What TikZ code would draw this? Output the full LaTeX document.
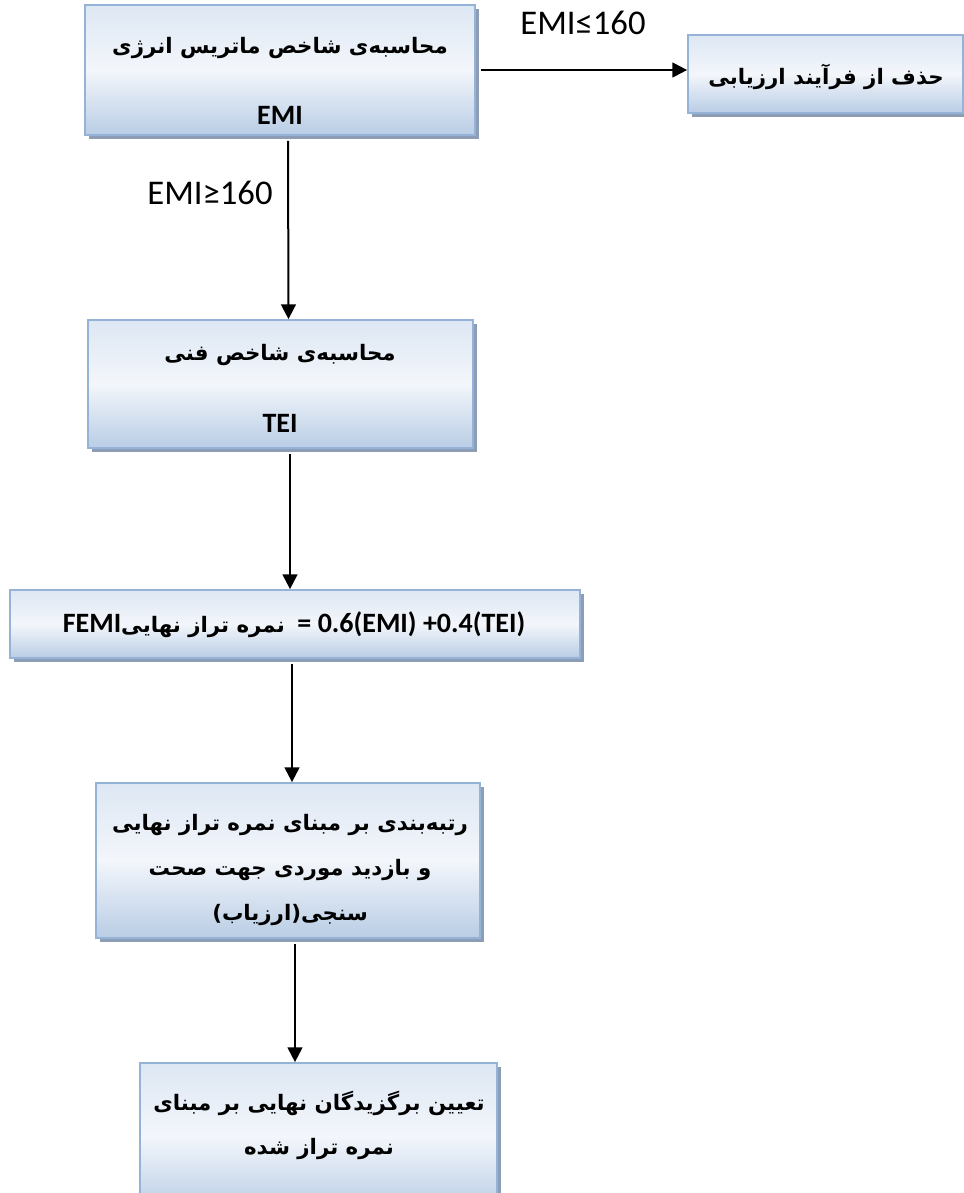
\documentclass[tikz,border=0pt]{standalone}
\usepackage{fontspec}
\setmainfont{Carlito}
\newfontfamily\fafont[Script=Arabic]{DejaVu Sans}
\TeXXeTstate=1
\usetikzlibrary{arrows.meta,
                shadows,
                positioning}
\definecolor{box_top}{RGB}{221,231,243}
\definecolor{box_mid}{RGB}{243,246,251}
\definecolor{box_bot}{RGB}{185,205,229}
\definecolor{box_line}{RGB}{149,179,215}
\definecolor{box_shadow}{RGB}{140,157,181}
\newcommand{\fa}[1]{{\fafont\bfseries\beginR #1\endR}}

\begin{document}
\begin{tikzpicture}[
			x=0.75pt, y=-0.75pt,
			box/.style = {draw=box_line, line width=1.3pt, top color=box_top, bottom color=box_bot, middle color=box_mid,
				drop shadow={shadow xshift=3pt, shadow yshift=-3pt, fill=box_shadow, opacity=1}, inner sep=0pt},
			fatext/.style = {font=\fontsize{16}{33.75}\selectfont, align=center, inner sep=0pt},
			entext/.style = {font=\bfseries\fontsize{21}{24}\selectfont, inner sep=0pt},
			cond/.style = {font=\fontsize{26}{30}\selectfont, inner sep=0pt},
			arr/.style = {line width=1.5pt, -{Triangle[width=11pt,length=11pt]}},
			]
			\clip (0,0) rectangle (964,1193);
			% boxes
			\node[box, minimum width=292.5pt, minimum height=97.5pt] (emi) at (280,70) {};
			\node[box, minimum width=206.25pt, minimum height=58.5pt] (drop) at (825.5,74) {};
			\node[box, minimum width=288.75pt, minimum height=96pt] (tei) at (280.5,384) {};
			\node[box, minimum width=427.5pt, minimum height=51pt] (femi) at (295,624) {};
			\node[box, minimum width=288pt, minimum height=116.25pt] (rank) at (288,860.5) {};
			\node[box, minimum width=267.75pt, minimum height=110.25pt] (final) at (318.5,1136.5) {};
			% texts
			\node[fatext] (emi-fa) at (280,48) {\fa{محاسبه^^^^200cی شاخص ماتریس انرژی}};
			\node[entext] (emi-en) at (280,115) {EMI};
			\node[fatext] (drop-fa) at (826,77) {\fa{حذف از فرآیند ارزیابی}};
			\node[fatext] (tei-fa) at (280,355) {\fa{محاسبه^^^^200cی شاخص فنی}};
			\node[entext] (tei-en) at (280,423) {TEI};
			\node[entext] (femi-tx) at (294,625) {FEMI{\fontsize{16}{18}\selectfont\fa{نمره تراز نهایی}}\ \ = 0.6(EMI) +0.4(TEI)};
			\node[fatext] (rank-fa) at (290,870) {\fa{رتبه^^^^200cبندی بر مبنای نمره تراز نهایی}\\
				\fa{و بازدید موردی جهت صحت}\\
				\fa{سنجی(ارزیاب)}};
			\node[fatext, font=\fontsize{16}{33}\selectfont] (final-fa) at (319,1125) {\fa{تعیین برگزیدگان نهایی بر مبنای}\\
				\fa{نمره تراز شده}};
			% conditions
			\node[cond] (lo) at (583,23) {EMI≤160};
			\node[cond] (hi) at (210,193) {EMI≥160};
			% edges
			\draw[arr] ([shift={(5,0)}]emi.east) -- (emi.east -| drop.west);
			\draw[arr] ([shift={(8,5)}]emi.south) -- ([shift={(8,0)}]tei.north);
			\draw[arr] ([shift={(9.5,5)}]tei.south) -- ([shift={(-5,0)}]femi.north);
			\draw[arr] ([shift={(-3,5)}]femi.south) -- ([shift={(4,0)}]rank.north);
			\draw[arr] ([shift={(7,5)}]rank.south) -- ([shift={(-23.5,0)}]final.north);
		\end{tikzpicture}
\end{document}
